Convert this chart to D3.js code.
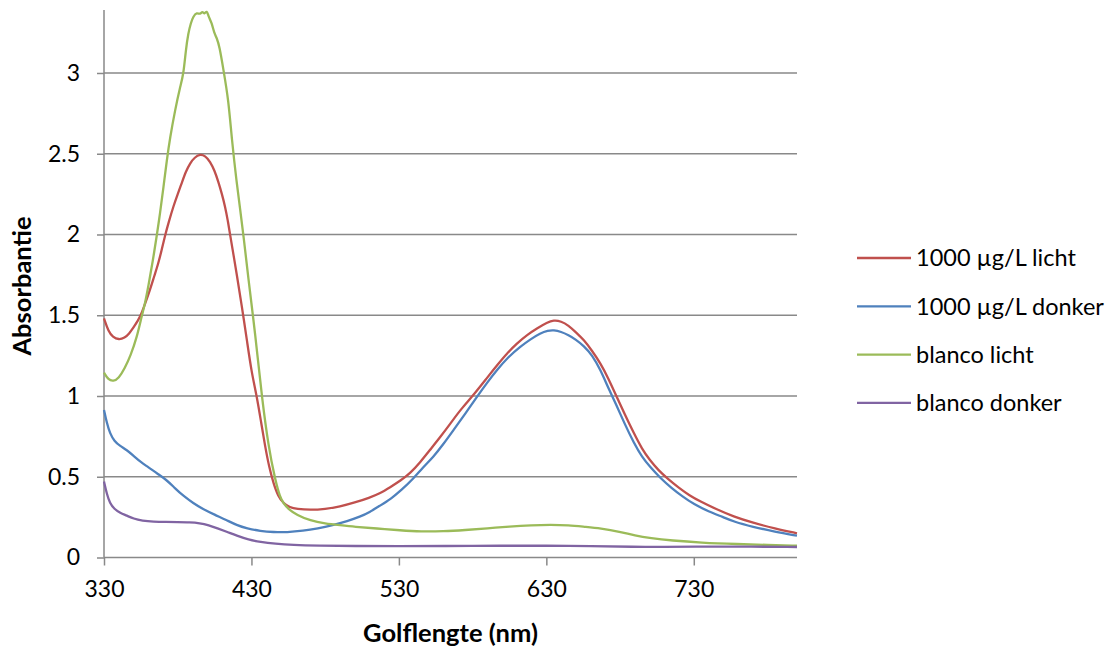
<!DOCTYPE html>
<html>
<head>
<meta charset="utf-8">
<script src="https://cdn.jsdelivr.net/npm/d3@7"></script>
<style>
  html, body { margin: 0; padding: 0; background: #fff; }
  svg { display: block; font-family: Lato, "Open Sans", sans-serif; }
</style>
</head>
<body>
<svg id="chart" width="1113" height="648"></svg>
<script>
// Absorption spectra: [wavelength (nm), absorbance]
const licht1000 = [
  [330,1.48],[333,1.40],[336,1.365],[340,1.348],[344,1.36],[347,1.385],[350,1.425],[353,1.465],
  [355.6,1.513],[358,1.575],[361.2,1.657],[364,1.74],[366.9,1.823],[369,1.90],[371.4,1.994],
  [374,2.08],[377,2.173],[380,2.25],[382.7,2.318],[385.5,2.39],[388.4,2.442],[391.5,2.478],
  [395.2,2.497],[398.5,2.488],[402,2.452],[405,2.395],[407.6,2.325],[410,2.25],[412.1,2.175],
  [414,2.085],[415.5,2.0],[418,1.865],[420,1.755],[423.5,1.554],[426.9,1.348],[430,1.15],
  [433.7,0.996],[436.5,0.84],[439.3,0.687],[442,0.56],[444.9,0.46],[448,0.38],[451.7,0.336],
  [456,0.31],[460.8,0.30],[469.9,0.294],[480,0.30],[490,0.315],[500,0.34],[510,0.37],
  [517.4,0.398],[524,0.435],[531,0.475],[538,0.525],[544.5,0.59],[551,0.665],[558,0.745],
  [565,0.83],[572,0.918],[581,1.01],[590,1.115],[597,1.195],[603.4,1.265],[610,1.325],
  [617,1.379],[624,1.42],[630.5,1.455],[635,1.47],[640,1.463],[645,1.437],[650,1.395],
  [655.4,1.348],[661,1.28],[666.7,1.203],[672,1.11],[677,1.01],[683,0.89],[689.3,0.77],
  [695,0.67],[700,0.605],[706,0.54],[712,0.49],[720,0.43],[727,0.385],[734.6,0.346],
  [745,0.30],[757,0.253],[770,0.215],[785,0.18],[800,0.15]
];
const donker1000 = [
  [330,0.914],[332,0.83],[334,0.77],[337,0.72],[341,0.69],[345.4,0.666],[350,0.63],[355,0.59],
  [360,0.56],[366,0.52],[372.5,0.48],[378,0.43],[384,0.38],[390.6,0.336],[397,0.30],
  [405,0.265],[413,0.232],[420,0.20],[427,0.18],[436,0.164],[445,0.157],[454,0.156],
  [465,0.165],[475,0.18],[485,0.20],[495,0.225],[503.8,0.253],[510,0.28],[517,0.32],
  [524.2,0.36],[532,0.42],[540,0.49],[546,0.555],[553.6,0.625],[560,0.70],[567.1,0.79],
  [575,0.89],[583,0.996],[590,1.085],[596.6,1.162],[604,1.24],[612.4,1.306],[619,1.35],
  [626,1.389],[631,1.405],[635,1.408],[640,1.398],[645,1.377],[650,1.35],[655.4,1.31],
  [661,1.255],[666.7,1.162],[672,1.05],[678,0.934],[683,0.83],[689.3,0.71],[695,0.62],
  [700,0.565],[707.5,0.49],[715,0.43],[722,0.38],[730,0.33],[740,0.285],[750,0.25],
  [757,0.222],[770,0.19],[785,0.16],[800,0.135]
];
const blancoLicht = [
  [330,1.145],[333,1.10],[336.3,1.09],[340,1.11],[344,1.17],[348,1.25],[352.2,1.36],
  [355.6,1.496],[358,1.58],[360.1,1.68],[363,1.83],[365.8,1.994],[368,2.13],[370.3,2.29],
  [372.6,2.46],[374.8,2.6],[378.2,2.77],[381.6,2.913],[383.9,2.99],[385.5,3.144],
  [387.2,3.248],[388.9,3.31],[390.6,3.351],[392.9,3.375],[395.2,3.361],[396.7,3.385],
  [398.1,3.361],[399.7,3.39],[400.8,3.351],[403.1,3.31],[404.7,3.248],[406.5,3.217],
  [408.3,3.165],[411,3.02],[414.4,2.835],[416.7,2.587],[420,2.318],[422.3,2.16],
  [424.6,1.994],[428,1.72],[431.4,1.47],[434,1.26],[437,1.0],[441.5,0.687],[446.1,0.48],
  [449.5,0.37],[451.7,0.336],[455,0.30],[460.8,0.263],[469.9,0.228],[480,0.21],[490,0.20],
  [500,0.19],[515,0.18],[531,0.168],[545,0.16],[560,0.162],[575,0.17],[590,0.18],
  [605,0.192],[620,0.20],[633,0.203],[645,0.20],[656,0.19],[666.7,0.181],[680,0.16],
  [690,0.135],[700.7,0.119],[715,0.105],[734.6,0.092],[760,0.083],[780,0.078],[800,0.073]
];
const blancoDonker = [
  [330,0.47],[332,0.39],[334,0.336],[337,0.30],[341,0.275],[345.4,0.26],[350,0.24],
  [356,0.228],[363.5,0.222],[372,0.22],[380,0.219],[388,0.218],[395,0.213],[401,0.20],
  [407,0.18],[413,0.16],[420,0.135],[428,0.11],[436,0.096],[446,0.085],[458,0.077],
  [475,0.073],[500,0.071],[530,0.07],[560,0.071],[600,0.073],[630,0.073],[660,0.071],
  [690,0.066],[710,0.065],[730,0.068],[760,0.068],[800,0.065]
];

const seriesNames = ["1000 µg/L licht", "1000 µg/L donker", "blanco licht", "blanco donker"];
const seriesColors = ["#C0504D", "#4F81BD", "#9BBB59", "#8064A2"];
const seriesData = [licht1000, donker1000, blancoLicht, blancoDonker];

const xTicks = [330, 430, 530, 630, 730];
const yTicks = [0, 0.5, 1, 1.5, 2, 2.5, 3];
const xDomain = [330, 800];
const yDomain = [0, 3.39];

const svg = d3.select("#chart");
const plot = { left: 104, right: 797, top: 10, bottom: 557.5 };
const gridColor = "#898989";

const x = d3.scaleLinear().domain(xDomain).range([plot.left, plot.right]);
const y = d3.scaleLinear().domain(yDomain).range([plot.bottom, plot.top]);

// horizontal gridlines
svg.append("g")
  .selectAll("line")
  .data(yTicks.filter(d => d > 0))
  .join("line")
  .attr("x1", plot.left).attr("x2", plot.right)
  .attr("y1", d => y(d)).attr("y2", d => y(d))
  .attr("stroke", gridColor).attr("stroke-width", 1.5);

// y axis
const yAxis = svg.append("g")
  .attr("transform", `translate(${plot.left},0)`)
  .call(d3.axisLeft(y).tickValues(yTicks).tickSize(7).tickPadding(17)
    .tickFormat(d3.format("")));
yAxis.select(".domain").remove();
yAxis.append("line")
  .attr("x1", 0).attr("x2", 0).attr("y1", plot.top).attr("y2", plot.bottom)
  .attr("stroke", gridColor).attr("stroke-width", 1.5);

// x axis
const xAxis = svg.append("g")
  .attr("transform", `translate(0,${plot.bottom})`)
  .call(d3.axisBottom(x).tickValues(xTicks).tickSize(8).tickPadding(15)
    .tickFormat(d3.format("d")));
xAxis.select(".domain").remove();
xAxis.append("line")
  .attr("x1", plot.left).attr("x2", plot.right).attr("y1", 0).attr("y2", 0)
  .attr("stroke", gridColor).attr("stroke-width", 1.5);

[yAxis, xAxis].forEach(g => {
  g.selectAll(".tick line").attr("stroke", gridColor).attr("stroke-width", 1.5);
  g.selectAll(".tick text")
    .attr("fill", "#000")
    .style("font-family", "Lato, 'Open Sans', sans-serif")
    .style("font-size", "23px");
});

// spectra
const line = d3.line()
  .x(d => x(d[0]))
  .y(d => y(d[1]))
  .curve(d3.curveBasis);

svg.append("g")
  .selectAll("path")
  .data(seriesData)
  .join("path")
  .attr("d", d => line(d))
  .attr("fill", "none")
  .attr("stroke", (d, i) => seriesColors[i])
  .attr("stroke-width", 2.3)
  .attr("stroke-linejoin", "round");

// axis titles
svg.append("text")
  .attr("x", (plot.left + plot.right) / 2)
  .attr("y", 642)
  .attr("text-anchor", "middle")
  .style("font-size", "25.5px").style("font-weight", "bold")
  .text("Golflengte (nm)");

svg.append("text")
  .attr("transform", "translate(31,286) rotate(-90)")
  .attr("text-anchor", "middle")
  .style("font-size", "25.5px").style("font-weight", "bold")
  .text("Absorbantie");

// legend
const legend = svg.append("g").attr("transform", "translate(857,258)");
const rows = legend.selectAll("g")
  .data(seriesNames)
  .join("g")
  .attr("transform", (d, i) => `translate(0,${i * 48.3})`);
rows.append("line")
  .attr("x1", 0).attr("x2", 54).attr("y1", 0).attr("y2", 0)
  .attr("stroke", (d, i) => seriesColors[i]).attr("stroke-width", 2.3);
rows.append("text")
  .attr("x", 59).attr("y", 0).attr("dy", "0.35em")
  .style("font-size", "23.5px")
  .text(d => d);
</script>
</body>
</html>
